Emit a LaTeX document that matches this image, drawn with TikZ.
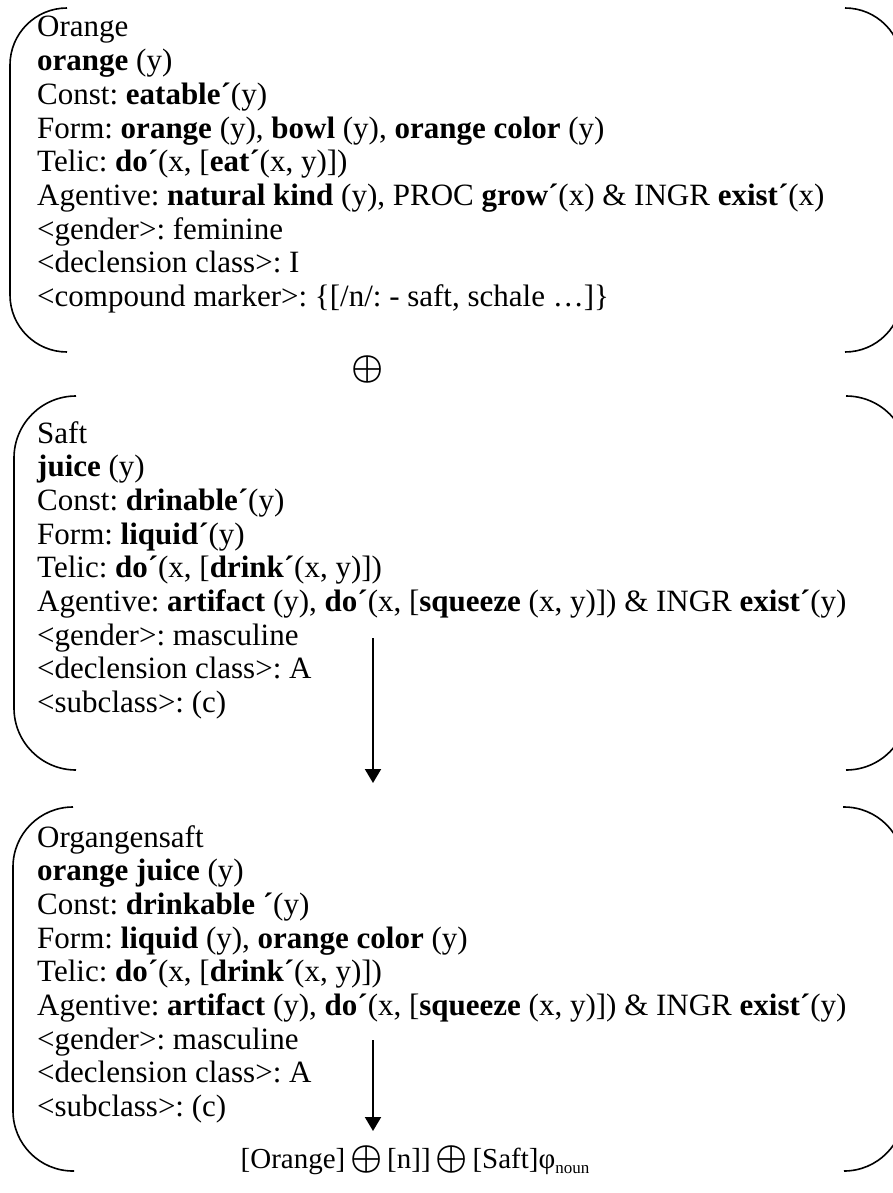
\RequirePackage{fix-cm}
\documentclass[tikz,border=0pt]{standalone}
\usepackage{fontspec}
\setmainfont{Liberation Serif}
\usetikzlibrary{arrows.meta}
\frenchspacing
\newcommand{\opsym}{{\fontsize{36}{36}\selectfont\boldmath$\oplus$}}
\begin{document}
\begin{tikzpicture}[x=1pt,y=-1pt,
  txt/.style={anchor=base west, inner sep=0pt, font=\fontsize{31}{34}\selectfont},
  bracket/.style={line width=1.6pt, rounded corners=#1},
  flow/.style={line width=2pt, -{Triangle[length=14pt,width=16pt]}}]
\useasboundingbox (0,0) rectangle (893,1193);
\clip (0,0) rectangle (893,1193);

% ---- Orange ----
\draw[bracket=57] (67,8) -- (10,8) -- (10,352) -- (67,352);
\draw[bracket=57] (845,8) -- (902,8) -- (902,352) -- (845,352);
\node[txt] (o1) at (37,37.0)  {Orange};
\node[txt] (o2) at (37,70.7)  {\textbf{orange} (y)};
\node[txt] (o3) at (37,104.4) {Const: \textbf{eatable´}(y)};
\node[txt] (o4) at (37,138.1) {Form: \textbf{orange} (y), \textbf{bowl} (y), \textbf{orange color} (y)};
\node[txt] (o5) at (37,171.8) {Telic: \textbf{do´}(x, [\textbf{eat´}(x, y)])};
\node[txt] (o6) at (37,205.5) {Agentive: \textbf{natural kind} (y), PROC \textbf{grow´}(x) \& INGR \textbf{exist´}(x)};
\node[txt] (o7) at (37,239.2) {<gender>: feminine};
\node[txt] (o8) at (37,272.9) {<declension class>: I};
\node[txt] (o9) at (37,306.6) {<compound marker>: \{[/n/: - saft, schale …]\}};

\node[inner sep=0pt] (plus) at (368,369) {\opsym};

% ---- Saft ----
\draw[bracket=62] (76,396) -- (14,396) -- (14,770) -- (76,770);
\draw[bracket=62] (846,396) -- (908,396) -- (908,770) -- (846,770);
\node[txt] (s1) at (37,443.0) {Saft};
\node[txt] (s2) at (37,476.7) {\textbf{juice} (y)};
\node[txt] (s3) at (37,510.4) {Const: \textbf{drinable´}(y)};
\node[txt] (s4) at (37,544.1) {Form: \textbf{liquid´}(y)};
\node[txt] (s5) at (37,577.8) {Telic: \textbf{do´}(x, [\textbf{drink´}(x, y)])};
\node[txt] (s6) at (37,611.5) {Agentive: \textbf{artifact} (y), \textbf{do´}(x, [\textbf{squeeze} (x, y)]) \& INGR \textbf{exist´}(y)};
\node[txt] (s7) at (37,645.2) {<gender>: masculine};
\node[txt] (s8) at (37,678.9) {<declension class>: A};
\node[txt] (s9) at (37,712.6) {<subclass>: (c)};

% ---- Orangensaft ----
\draw[bracket=60] (73,807) -- (13,807) -- (13,1171) -- (74,1171);
\draw[bracket=60] (843,807) -- (904,807) -- (904,1171) -- (845,1171);
\node[txt] (c1) at (37,847.0)  {Organgensaft};
\node[txt] (c2) at (37,880.7)  {\textbf{orange juice} (y)};
\node[txt] (c3) at (37,914.4)  {Const: \textbf{drinkable ´}(y)};
\node[txt] (c4) at (37,948.1)  {Form: \textbf{liquid} (y), \textbf{orange color} (y)};
\node[txt] (c5) at (37,981.8)  {Telic: \textbf{do´}(x, [\textbf{drink´}(x, y)])};
\node[txt] (c6) at (37,1015.5) {Agentive: \textbf{artifact} (y), \textbf{do´}(x, [\textbf{squeeze} (x, y)]) \& INGR \textbf{exist´}(y)};
\node[txt] (c7) at (37,1049.2) {<gender>: masculine};
\node[txt] (c8) at (37,1082.9) {<declension class>: A};
\node[txt] (c9) at (37,1116.6) {<subclass>: (c)};

% compound formula
\node[anchor=base, inner sep=0pt, font=\fontsize{29}{34}\selectfont] (formula) at (415,1168)
  {[Orange]\,\opsym\,[n]]\,\opsym\,[Saft]φ\raisebox{-0.2em}{\fontsize{17}{17}\selectfont noun}};

% derivation arrows
\coordinate (a1s) at (373,638);
\coordinate (a1e) at (373,783);
\coordinate (a2s) at (373,1040);
\coordinate (a2e) at (373,1131);
\draw[flow] (a1s) -- (a1e);
\draw[flow] (a2s) -- (a2e);
\end{tikzpicture}
\end{document}
